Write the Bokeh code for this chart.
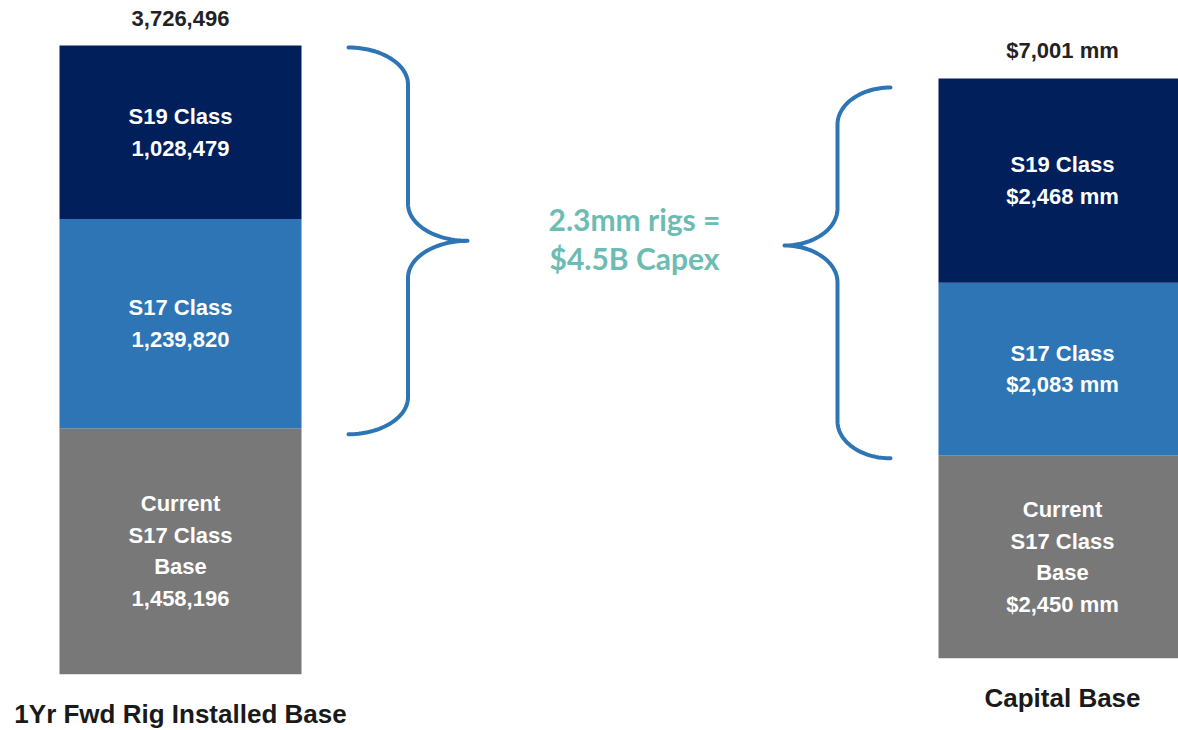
import numpy as np
from bokeh.plotting import figure
from bokeh.models import Range1d
from bokeh.core.properties import value
from bokeh.embed import file_html
from bokeh.resources import INLINE

# ---------------- data ----------------
segments = ["Current\nS17 Class\nBase", "S17 Class", "S19 Class"]
rigs = [1458196, 1239820, 1028479]
rigs_total = 3726496
capital = [2450, 2083, 2468]           # $ mm
capital_total = 7001
bar_titles = ["1Yr Fwd Rig Installed Base", "Capital Base"]
center_note = "2.3mm rigs =\n$4.5B Capex"
colors = ["#787878", "#2E75B6", "#011F5B"]

# ---------------- layout ----------------
W, H = 1178, 730
FONT = "Liberation Sans"
BRACE = "#2E75B6"
TEAL = "#6CBCB3"

# pixel geometry of each bar (screen y of top & bottom)
L_top_px, L_bot_px = 45.0, 673.7
R_top_px, R_bot_px = 78.0, 657.7
kL = (L_bot_px - L_top_px) / rigs_total
kR = (R_bot_px - R_top_px) / capital_total
frame_top, frame_bot = 0.0, float(H)

yL = Range1d(-(frame_bot - L_bot_px) / kL, rigs_total + (L_top_px - frame_top) / kL)
yR = Range1d(-(frame_bot - R_bot_px) / kR, capital_total + (R_top_px - frame_top) / kR)

p = figure(width=W, height=H, x_range=Range1d(0, W), y_range=yL,
           output_backend="svg", toolbar_location=None,
           x_axis_location=None, y_axis_location=None,
           min_border=0, min_border_left=0, min_border_right=0,
           min_border_top=0, min_border_bottom=0)
p.extra_y_ranges = {"cap": yR}
p.grid.visible = False
p.outline_line_color = None
p.background_fill_color = "white"


def stack(vals):
    tops = np.cumsum(vals)
    bots = tops - np.array(vals)
    return bots, tops


lab_style = dict(text_color="white", text_font=value(FONT), text_font_size="22px",
                 text_font_style="bold", text_align="center", text_baseline="middle",
                 text_line_height=1.26)
tot_style = dict(text_color="#222222", text_font=value(FONT), text_font_size="22px",
                 text_font_style="bold", text_align="center", text_baseline="middle")
ttl_style = dict(text_color="#1a1a1a", text_font=value(FONT), text_font_size="26px",
                 text_font_style="bold", text_align="center", text_baseline="middle")

# --- left bar ---
xL, wL = 180.0, 242.0
bL, tL = stack(rigs)
p.vbar(x=[xL] * 3, width=wL, bottom=bL, top=tL, fill_color=colors, line_color=None)
lab_L = [f"{s}\n{v:,}" for s, v in zip(segments, rigs)]
p.text(x=[xL] * 3, y=(bL + tL) / 2, text=lab_L, **lab_style)
p.text(x=[xL], y=[rigs_total], text=[f"{rigs_total:,}"], y_offset=-27, **tot_style)
p.text(x=[xL], y=[0], text=[bar_titles[0]], y_offset=40, **ttl_style)

# --- right bar ---
xR, wR = 1062.0, 248.0
bR, tR = stack(capital)
p.vbar(x=[xR] * 3, width=wR, bottom=bR, top=tR, fill_color=colors, line_color=None,
       y_range_name="cap")
lab_R = [f"{s}\n${v:,} mm" for s, v in zip(segments, capital)]
p.text(x=[xR] * 3, y=(bR + tR) / 2, text=lab_R, y_range_name="cap", **lab_style)
p.text(x=[xR], y=[capital_total], text=[f"${capital_total:,} mm"], y_offset=-28,
       y_range_name="cap", **tot_style)
p.text(x=[xR], y=[0], text=[bar_titles[1]], y_offset=40, y_range_name="cap", **ttl_style)


# --- braces ---
def bez(p0, p1, p2, p3, n=30):
    t = np.linspace(0, 1, n)[:, None]
    return ((1 - t) ** 3) * p0 + 3 * ((1 - t) ** 2) * t * p1 + 3 * (1 - t) * t ** 2 * p2 + t ** 3 * p3


def brace(x_end, x_mid, x_tip, y_top, y_tip, y_bot, ry):
    c = 0.55
    P = lambda a, b: np.array([a, b], dtype=float)
    d = np.sign(y_top - y_bot)
    segs = [
        bez(P(x_end, y_top), P(x_end + c * (x_mid - x_end), y_top),
            P(x_mid, y_top - d * ry + d * c * ry), P(x_mid, y_top - d * ry)),
        bez(P(x_mid, y_tip + d * ry), P(x_mid, y_tip + d * ry - d * c * ry),
            P(x_tip - c * (x_tip - x_mid), y_tip), P(x_tip, y_tip)),
        bez(P(x_tip, y_tip), P(x_tip - c * (x_tip - x_mid), y_tip),
            P(x_mid, y_tip - d * ry + d * c * ry), P(x_mid, y_tip - d * ry)),
        bez(P(x_mid, y_bot + d * ry), P(x_mid, y_bot + d * ry - d * c * ry),
            P(x_end + c * (x_mid - x_end), y_bot), P(x_end, y_bot)),
    ]
    pts = np.vstack(segs)
    return pts[:, 0], pts[:, 1]


# left brace spans the new S17 + S19 additions
lb_top = rigs_total - 2 / kL
lb_bot = rigs[0] - 6 / kL
lb_tip = (lb_top + lb_bot) / 2
bx, by = brace(348, 407.5, 467, lb_top, lb_tip, lb_bot, 37 / kL)
p.line(bx, by, line_color=BRACE, line_width=4, line_cap="round", line_join="round")

rb_top = capital_total - 9 / kR
rb_bot = capital[0] - 3 / kR
rb_tip = rb_top - 158 / kR
bx, by = brace(890, 837, 784, rb_top, rb_tip, rb_bot, 37 / kR)
p.line(bx, by, line_color=BRACE, line_width=4, line_cap="round", line_join="round",
       y_range_name="cap")

# center note
p.text(x=[634], y=[lb_tip], text=[center_note], y_offset=-2, text_color=TEAL,
       text_font=value("Lato"), text_font_size="30px", text_font_style="bold",
       text_align="center", text_baseline="middle", text_line_height=1.08)

open("out.html", "w").write(file_html(p, INLINE))
